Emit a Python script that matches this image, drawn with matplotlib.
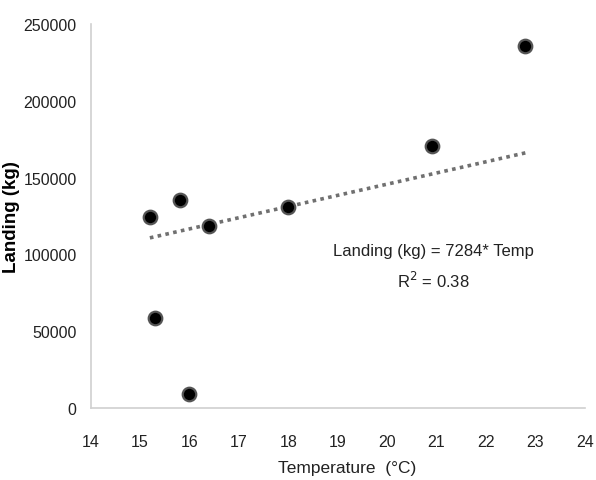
import numpy as np
import matplotlib.pyplot as plt

plt.rcParams['font.family'] = ['Liberation Sans', 'DejaVu Sans']

temp = [15.2, 15.3, 15.8, 16.0, 16.4, 18.0, 20.9, 22.8]
landing = [124500, 58500, 135500, 9000, 118500, 131000, 170800, 235500]
slope = 7284
x_ticks = [14, 15, 16, 17, 18, 19, 20, 21, 22, 23, 24]
y_ticks = [0, 50000, 100000, 150000, 200000, 250000]

fig = plt.figure(figsize=(5.96, 4.81), dpi=100)
ax = fig.add_axes([0.152, 0.150, 0.829, 0.798])

# trend line through origin, over the data range
tx = np.array([min(temp), max(temp)])
ax.plot(tx, slope * tx, color='#707070', linestyle=(0, (1, 1.2)), linewidth=2.6, zorder=2)

ax.scatter(temp, landing, s=95, color='black', edgecolors='#555555', linewidths=1.6, zorder=3)

ax.set_xlim(14, 24)
ax.set_ylim(0, 250000)
ax.set_xticks(x_ticks)
ax.set_yticks(y_ticks)
ax.tick_params(length=0, labelsize=11.5, labelcolor='#222222')
ax.tick_params(axis='x', pad=19)
ax.tick_params(axis='y', pad=10)

for s in ['top', 'right']:
    ax.spines[s].set_visible(False)
for s in ['left', 'bottom']:
    ax.spines[s].set_color('#d0d0d0')
    ax.spines[s].set_linewidth(1.2)

ax.set_xlabel('Temperature  (°C)', fontsize=12.5, color='#222222')
ax.xaxis.set_label_coords(0.52, -0.135)
ax.set_ylabel('Landing (kg)', fontsize=13.5, fontweight='bold')
ax.yaxis.set_label_coords(-0.143, 0.5)

ax.text(20.93, 92000, 'Landing (kg) = 7284* Temp\nR$^2$ = 0.38', ha='center', va='center',
        fontsize=12, linespacing=1.7, color='#222222')

fig.savefig('out.png', dpi=100)
